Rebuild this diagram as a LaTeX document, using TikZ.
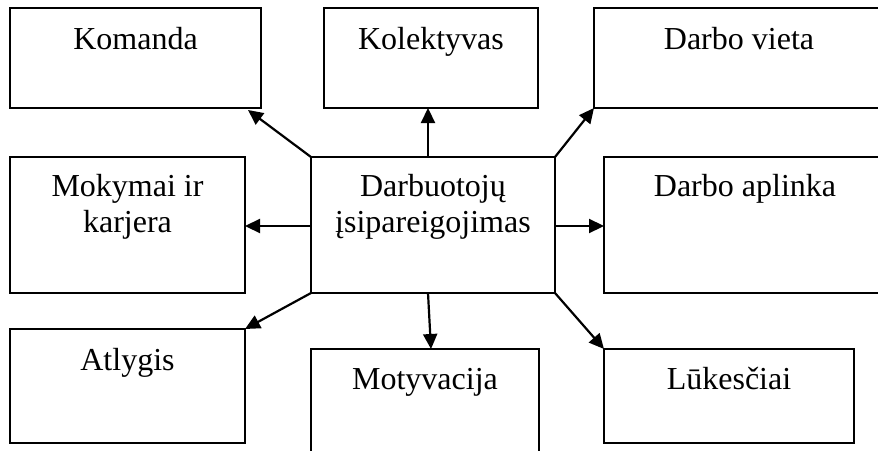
\documentclass[tikz,border=0pt]{standalone}
\usepackage{fontspec}
\setmainfont{Liberation Serif}
\usetikzlibrary{arrows.meta}
\begin{document}
\begin{tikzpicture}[x=1pt,y=-1pt,
  box/.style={draw=black,line width=2.2pt,rectangle,anchor=north west,outer sep=0pt,inner sep=0pt},
  lbl/.style={anchor=base,align=center,inner sep=0pt,font=\fontsize{32}{36}\selectfont},
  arr/.style={line width=2.2pt,-{Triangle[length=15pt,width=14pt]}}]
\useasboundingbox (0,0) rectangle (878,450);
\clip (0,0) rectangle (878,450);
% boxes
\node[box,minimum width=251pt,minimum height=100pt] (komanda) at (10,8) {};
\node[box,minimum width=214pt,minimum height=100pt] (kolektyvas) at (324,8) {};
\node[box,minimum width=290pt,minimum height=100pt] (vieta) at (594,8) {};
\node[box,minimum width=235pt,minimum height=136pt] (mokymai) at (10,157) {};
\node[box,minimum width=244pt,minimum height=136pt] (centras) at (311,157) {};
\node[box,minimum width=282pt,minimum height=136pt] (aplinka) at (604,157) {};
\node[box,minimum width=235pt,minimum height=114pt] (atlygis) at (10,329) {};
\node[box,minimum width=228pt,minimum height=130pt] (motyvacija) at (311,349) {};
\node[box,minimum width=250pt,minimum height=94pt] (lukesciai) at (604,349) {};
% labels
\node[lbl] (komandaT) at ([yshift=-41pt]komanda.north) {Komanda};
\node[lbl] (kolektyvasT) at ([yshift=-41pt]kolektyvas.north) {Kolektyvas};
\node[lbl] (vietaT) at ([yshift=-41pt]vieta.north) {Darbo vieta};
\node[lbl] (mokymaiT) at ([yshift=-75pt]mokymai.north) {Mokymai ir\\karjera};
\node[lbl] (centrasT) at ([yshift=-75pt]centras.north) {Darbuotojų\\įsipareigojimas};
\node[lbl] (aplinkaT) at ([yshift=-39pt]aplinka.north) {Darbo aplinka};
\node[lbl] (atlygisT) at ([yshift=-41pt]atlygis.north) {Atlygis};
\node[lbl] (motyvacijaT) at ([yshift=-40pt]motyvacija.north) {Motyvacija};
\node[lbl] (lukesciaiT) at ([yshift=-40pt]lukesciai.north) {Lūkesčiai};
% arrows
\draw[arr] (centras.north west) -- ([xshift=-13pt,yshift=-2pt]komanda.south east);
\draw[arr] ([xshift=-5pt]centras.north) -- ([xshift=-3pt]kolektyvas.south);
\draw[arr] (centras.north east) -- (vieta.south west);
\draw[arr] ([yshift=-1pt]centras.west) -- ([yshift=-1pt]mokymai.east);
\draw[arr] ([yshift=-1pt]centras.east) -- ([yshift=-1pt]aplinka.west);
\draw[arr] (centras.south west) -- (atlygis.north east);
\draw[arr] ([xshift=-5pt]centras.south) -- ([xshift=6pt]motyvacija.north);
\draw[arr] (centras.south east) -- (lukesciai.north west);
\end{tikzpicture}
\end{document}
